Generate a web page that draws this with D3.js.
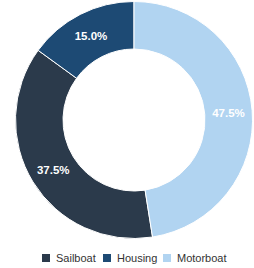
<!DOCTYPE html>
<html>
<head>
<meta charset="utf-8">
<script src="https://cdn.jsdelivr.net/npm/d3@7"></script>
<style>
  body { margin: 0; background: #fff; }
  svg { display: block; }
</style>
</head>
<body>
<div class="chart"></div>
<script>
const categories = ["Sailboat", "Housing", "Motorboat"];
const values = [37.5, 15.0, 47.5];
const colors = ["#2b3a4b", "#1d4a74", "#b1d4f1"];

const width = 254, height = 268;
const cx = 134, cy = 120;
const outerR = 118.5, innerR = 71;

const color = d3.scaleOrdinal().domain(categories).range(colors);

const svg = d3.select(".chart").append("svg")
    .attr("width", width)
    .attr("height", height);

const data = categories.map((c, i) => ({ name: c, value: values[i] }));

// default pie sort puts the largest slice first, from 12 o'clock
const pie = d3.pie().value(d => d.value);
const arc = d3.arc().innerRadius(innerR).outerRadius(outerR);

const g = svg.append("g").attr("transform", `translate(${cx},${cy})`);

const slices = g.selectAll("g.slice").data(pie(data)).enter()
    .append("g").attr("class", "slice");

slices.append("path")
    .attr("d", arc)
    .attr("fill", d => color(d.data.name))
    .attr("stroke", "#fff")
    .attr("stroke-width", 1);

slices.append("text")
    .attr("transform", d => `translate(${arc.centroid(d)})`)
    .attr("text-anchor", "middle")
    .attr("dy", "0.35em")
    .attr("fill", "#fff")
    .style("font-family", "Liberation Sans, Arial, sans-serif")
    .style("font-size", "11.5px")
    .style("font-weight", "bold")
    .text(d => d.data.value.toFixed(1) + "%");

// legend
const legendX = [42, 103, 163];
const legend = svg.append("g").attr("transform", "translate(0,254)");
const items = legend.selectAll("g").data(categories).enter()
    .append("g")
    .attr("transform", (d, i) => `translate(${legendX[i]},0)`);

items.append("rect")
    .attr("width", 8).attr("height", 8)
    .attr("fill", d => color(d));

items.append("text")
    .attr("x", 14)
    .attr("y", 4)
    .attr("dy", "0.35em")
    .attr("fill", "#333")
    .style("font-family", "Liberation Sans, Arial, sans-serif")
    .style("font-size", "11px")
    .text(d => d);
</script>
</body>
</html>
